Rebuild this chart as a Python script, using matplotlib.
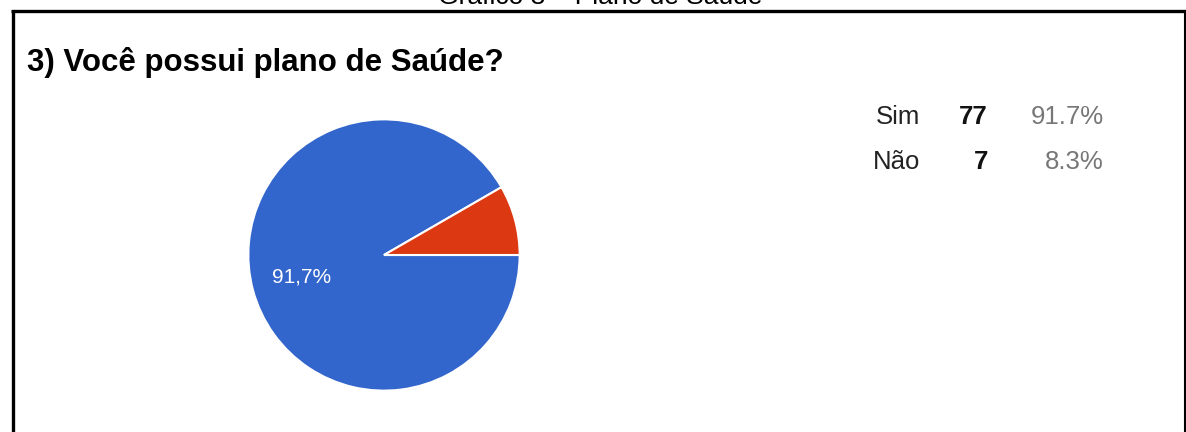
import matplotlib.pyplot as plt
from matplotlib.lines import Line2D

plt.rcParams['font.family'] = ['Liberation Sans', 'DejaVu Sans']

labels = ["Sim", "Não"]
counts = [77, 7]
colors = ["#3366CC", "#DC3912"]

W, H = 1186, 432
fig = plt.figure(figsize=(W / 100, H / 100), dpi=100)

# overlay in pixel coordinates for frame and texts
ov = fig.add_axes([0, 0, 1, 1])
ov.set_xlim(0, W)
ov.set_ylim(H, 0)
ov.axis("off")

ov.add_line(Line2D([12.5, 12.5], [10.5, H], color="black", lw=2.4,
                   solid_capstyle="butt"))
ov.add_line(Line2D([11.3, W], [10.5, 10.5], color="black", lw=2.4,
                   solid_capstyle="butt"))
ov.add_line(Line2D([1184.5, 1184.5], [10.5, H], color="black", lw=1.5,
                   solid_capstyle="butt"))

# caption above the frame, cut off at the top like in the source image
ov.text(600, 4, "Gráfico 3 – Plano de Saúde", ha="center", va="baseline",
        fontsize=19, color="black")
ov.text(27, 63, "3) Você possui plano de Saúde?", ha="left", va="center",
        fontsize=22.5, fontweight="bold", color="black")

# legend table
total = sum(counts)
rows_y = [117, 162]
for lab, c, y in zip(labels, counts, rows_y):
    ov.text(920, y, lab, ha="right", va="center", fontsize=18.5, color="#222222")
    ov.text(988, y, str(c), ha="right", va="center", fontsize=18.5,
            fontweight="bold", color="#111111")
    ov.text(1104, y, f"{100 * c / total:.1f}%", ha="right", va="center",
            fontsize=18.5, color="#777777")

# pie
cx, cy, r = 384, 255, 137
ax = fig.add_axes([(cx - r) / W, (H - cy - r) / H, 2 * r / W, 2 * r / H])


def fmt(p):
    return f"{p:.1f}".replace(".", ",") + "%" if p > 20 else ""


wedges, texts, autotexts = ax.pie(
    counts, colors=colors, startangle=30, counterclock=True, radius=1,
    autopct=fmt, pctdistance=0.63,
    wedgeprops=dict(edgecolor="white", linewidth=1.5),
    textprops=dict(color="white", fontsize=15),
)
ax.set_xlim(-1.01, 1.01)
ax.set_ylim(-1.01, 1.01)
ax.axis("off")

fig.savefig("out.png", dpi=100)
